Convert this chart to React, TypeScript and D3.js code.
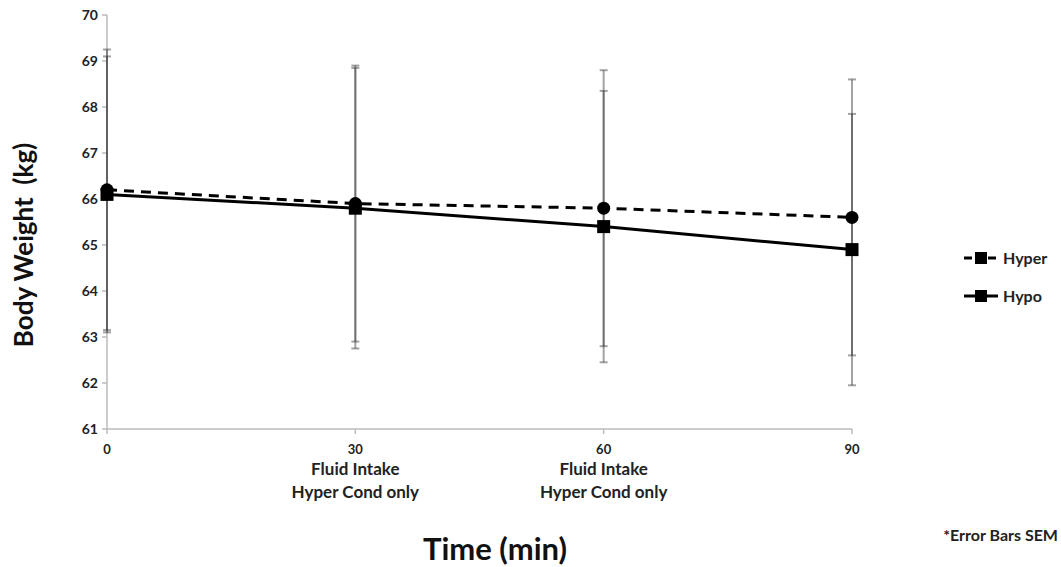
import React from "react";
import * as d3 from "d3";

const times = [0, 30, 60, 90];
const xTickLines = [["0"], ["30", "Fluid Intake", "Hyper Cond only"], ["60", "Fluid Intake", "Hyper Cond only"], ["90"]];
const yTicks = [61, 62, 63, 64, 65, 66, 67, 68, 69, 70];
const hyperMean = [66.2, 65.9, 65.8, 65.6];
const hyperErr = [3.05, 3.0, 3.0, 3.0];
const hypoMean = [66.1, 65.8, 65.4, 64.9];
const hypoErr = [3.0, 3.05, 2.95, 2.95];
const seriesNames = ["Hyper", "Hypo"];

const FONT = "Lato, 'Open Sans', sans-serif";

export default function App() {
  const W = 1061, H = 567;
  const x = d3.scaleLinear().domain([0, 90]).range([107, 852]);
  const y = d3.scaleLinear().domain([61, 70]).range([429, 15]);
  const line = d3.line<number>().x((_, i) => x(times[i])).y((d) => y(d));

  const errBars = (means: number[], errs: number[], key: string) =>
    means.map((m, i) => {
      const cx = x(times[i]);
      const y1 = y(m + errs[i]);
      const y2 = y(m - errs[i]);
      return (
        <g key={key + i} stroke="#333" strokeOpacity={0.45} strokeWidth={2}>
          <line x1={cx} x2={cx} y1={y1} y2={y2} />
          <line x1={cx - 4} x2={cx + 4} y1={y1} y2={y1} />
          <line x1={cx - 4} x2={cx + 4} y1={y2} y2={y2} />
        </g>
      );
    });

  return (
    <svg width={W} height={H} style={{ position: "absolute", left: 0, top: 0, background: "#fff" }} fontFamily={FONT}>
      {/* axes */}
      <line x1={107} x2={107} y1={15} y2={429} stroke="#bbb" strokeWidth={1.5} />
      <line x1={107} x2={852} y1={429} y2={429} stroke="#bbb" strokeWidth={1.5} />
      {yTicks.map((t) => (
        <g key={"yt" + t}>
          <line x1={102} x2={107} y1={y(t)} y2={y(t)} stroke="#bbb" strokeWidth={1.5} />
          <text x={98} y={y(t)} dy="0.35em" textAnchor="end" fontSize={14} fontWeight="bold" fill="#222">
            {t}
          </text>
        </g>
      ))}
      {times.map((t, i) => (
        <g key={"xt" + t}>
          <line x1={x(t)} x2={x(t)} y1={429} y2={434} stroke="#bbb" strokeWidth={1.5} />
          {xTickLines[i].map((s, j) => (
            <text key={j} x={x(t)} y={j === 0 ? 454 : 475 + (j - 1) * 23} textAnchor="middle" fontSize={j === 0 ? 13 : 17} fontWeight="bold" fill="#222">
              {s}
            </text>
          ))}
        </g>
      ))}
      {/* error bars */}
      {errBars(hyperMean, hyperErr, "he")}
      {errBars(hypoMean, hypoErr, "ho")}
      {/* lines */}
      <path d={line(hyperMean) || ""} fill="none" stroke="#000" strokeWidth={3} strokeDasharray="10,7" />
      <path d={line(hypoMean) || ""} fill="none" stroke="#000" strokeWidth={3} />
      {hyperMean.map((m, i) => (
        <circle key={"hc" + i} cx={x(times[i])} cy={y(m)} r={6.5} fill="#000" />
      ))}
      {hypoMean.map((m, i) => (
        <rect key={"hr" + i} x={x(times[i]) - 6.5} y={y(m) - 6.5} width={13} height={13} fill="#000" />
      ))}
      {/* legend */}
      {seriesNames.map((n, i) => {
        const ly = 258 + i * 38;
        return (
          <g key={"lg" + n}>
            <line x1={964} x2={998} y1={ly} y2={ly} stroke="#000" strokeWidth={3} strokeDasharray={i === 0 ? "8,4" : undefined} />
            <rect x={975} y={ly - 6} width={12} height={12} fill="#000" />
            <text x={1003} y={ly} dy="0.35em" fontSize={16} fontWeight="bold" fill="#222">
              {n}
            </text>
          </g>
        );
      })}
      {/* titles */}
      <text x={495} y={560} textAnchor="middle" fontSize={31} fontWeight="bold" fill="#111">
        Time (min)
      </text>
      <text transform="translate(33,245) rotate(-90)" textAnchor="middle" fontSize={26} fontWeight="bold" fill="#111" style={{ whiteSpace: "pre" }}>
        {"Body Weight  (kg)"}
      </text>
      <text x={1058} y={541} textAnchor="end" fontSize={16} fontWeight="bold" fill="#222">
        *Error Bars SEM
      </text>
    </svg>
  );
}
